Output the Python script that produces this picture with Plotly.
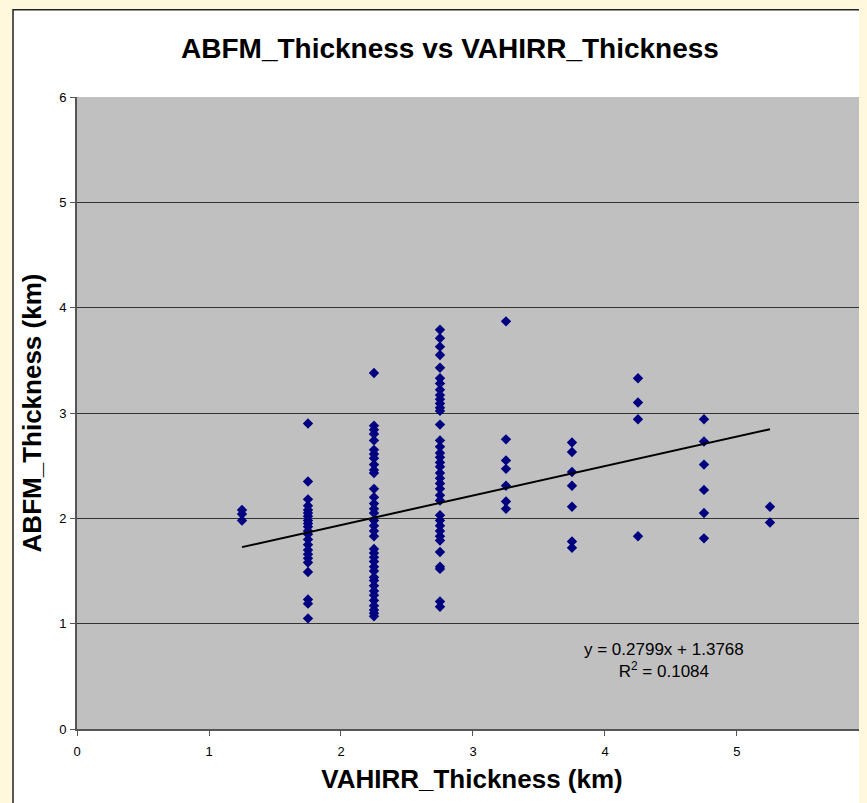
import plotly.graph_objects as go

# VAHIRR thickness categories (km) -> ABFM thickness values (km)
x_125 = [2.08, 2.04, 1.98]
x_175 = [2.90, 2.35, 2.18, 2.12, 2.08, 2.05, 2.02, 1.98, 1.95, 1.92, 1.88, 1.85,
         1.80, 1.75, 1.70, 1.66, 1.62, 1.58, 1.49, 1.23, 1.19, 1.05]
x_225 = [3.38, 2.88, 2.84, 2.80, 2.74, 2.65, 2.61, 2.57, 2.51, 2.46, 2.43, 2.28,
         2.20, 2.14, 2.09, 2.05, 1.98, 1.93, 1.88, 1.83, 1.71, 1.67, 1.63, 1.59,
         1.54, 1.50, 1.44, 1.41, 1.36, 1.31, 1.27, 1.22, 1.17, 1.13, 1.10, 1.07]
x_275 = [3.79, 3.71, 3.63, 3.55, 3.43, 3.33, 3.28, 3.22, 3.17, 3.13, 3.09, 3.05,
         3.02, 2.89, 2.74, 2.68, 2.62, 2.58, 2.53, 2.49, 2.43, 2.38, 2.33, 2.28,
         2.22, 2.17, 2.03, 1.98, 1.93, 1.88, 1.83, 1.79, 1.68, 1.54, 1.52, 1.21, 1.16]
x_325 = [3.87, 2.75, 2.55, 2.47, 2.31, 2.16, 2.09]
x_375 = [2.72, 2.63, 2.44, 2.31, 2.11, 1.78, 1.72]
x_425 = [3.33, 3.10, 2.94, 1.83]
x_475 = [2.94, 2.73, 2.51, 2.27, 2.05, 1.81]
x_525 = [2.11, 1.96]

groups = [(1.25, x_125), (1.75, x_175), (2.25, x_225), (2.75, x_275), (3.25, x_325),
          (3.75, x_375), (4.25, x_425), (4.75, x_475), (5.25, x_525)]

vahirr = [gx for gx, ys in groups for _ in ys]
abfm = [y for _, ys in groups for y in ys]

slope = 0.2799
intercept = 1.3768
trend_x = [1.25, 5.25]
trend_y = [slope * v + intercept for v in trend_x]

x_ticks = [0, 1, 2, 3, 4, 5]
y_ticks = [0, 1, 2, 3, 4, 5, 6]

FONT = "Liberation Sans, Arial, sans-serif"
W, H = 859, 795

fig = go.Figure()
fig.add_trace(go.Scatter(
    x=vahirr, y=abfm, mode="markers",
    marker=dict(symbol="diamond", size=8, color="#000080", line=dict(width=0)),
    showlegend=False, hoverinfo="x+y"))
fig.add_trace(go.Scatter(
    x=trend_x, y=trend_y, mode="lines",
    line=dict(color="black", width=2), showlegend=False))

fig.add_annotation(
    x=4.45, y=0.655, xref="x", yref="y", showarrow=False, align="center",
    text="y = 0.2799x + 1.3768<br>R<sup>2</sup> = 0.1084",
    font=dict(family=FONT, size=17, color="black"))

# white chart area with border on the cream page
fig.add_shape(type="rect", xref="paper", yref="paper",
              x0=-0.081, x1=1.1, y0=-0.2, y1=1.138,
              fillcolor="white", line=dict(color="#222222", width=1.5),
              layer="below")
# grey plot area
fig.add_shape(type="rect", xref="paper", yref="paper",
              x0=0, x1=1.01, y0=0, y1=1,
              fillcolor="#C0C0C0", line=dict(width=0),
              layer="below")

fig.update_layout(
    width=W, height=H,
    margin=dict(l=69, r=0, t=89, b=74),
    paper_bgcolor="#FFF8DC",
    plot_bgcolor="#C0C0C0",
    font=dict(family=FONT, size=13, color="black"),
    title=dict(text="<b>ABFM_Thickness vs VAHIRR_Thickness</b>",
               x=442 / W, xref="container", xanchor="center",
               y=1 - 40 / H, yref="container", yanchor="middle",
               font=dict(family=FONT, size=28, color="black")),
    xaxis=dict(range=[0, 5.985], tickvals=x_ticks, showgrid=False, zeroline=False,
               showline=True, linecolor="#555555", linewidth=2,
               ticks="outside", ticklen=5, tickcolor="#555555",
               tickfont=dict(size=13), ticklabelstandoff=4,
               title=dict(text="<b>VAHIRR_Thickness (km)</b>",
                          font=dict(size=26), standoff=12)),
    yaxis=dict(range=[0, 6], tickvals=y_ticks, showgrid=True,
               gridcolor="#333333", gridwidth=1, zeroline=False,
               showline=True, linecolor="#555555", linewidth=2,
               ticks="outside", ticklen=5, tickcolor="#555555",
               tickfont=dict(size=13), ticklabelstandoff=1,
               title=dict(text="<b>ABFM_Thickness (km)</b>",
                          font=dict(size=26), standoff=10)),
)

fig.write_html("out.html",
               post_script="document.body.style.backgroundColor='#FFF8DC';")
